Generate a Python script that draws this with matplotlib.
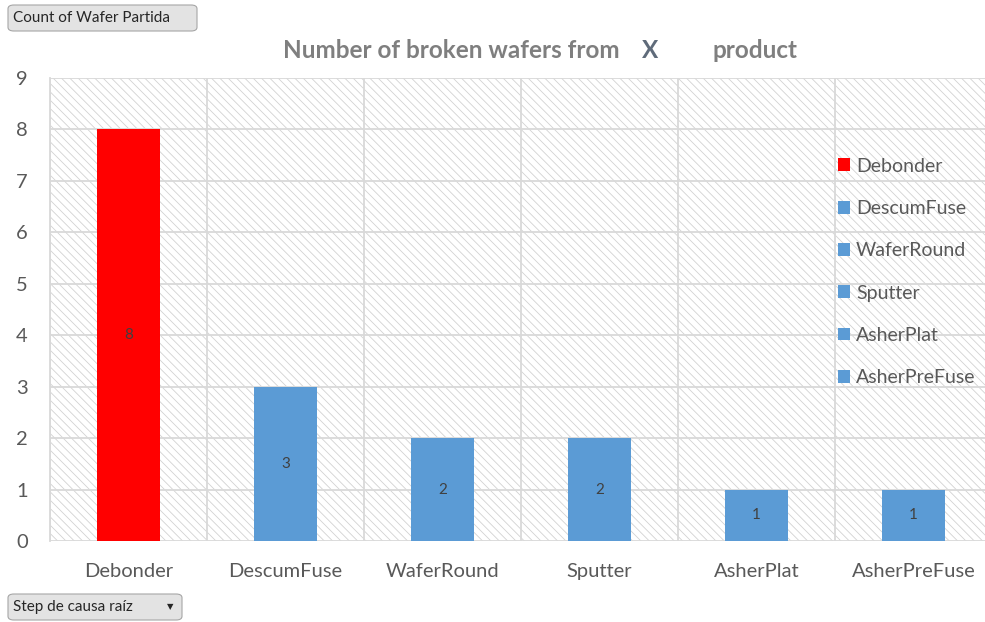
import matplotlib.pyplot as plt
from matplotlib.patches import Patch, Rectangle, FancyBboxPatch

# Data
steps = ["Debonder", "DescumFuse", "WaferRound", "Sputter", "AsherPlat", "AsherPreFuse"]
counts = [8, 3, 2, 2, 1, 1]
colors = ["#ff0000", "#5b9bd5", "#5b9bd5", "#5b9bd5", "#5b9bd5", "#5b9bd5"]
y_ticks = list(range(0, 10))

plt.rcParams["font.family"] = ["Lato", "DejaVu Sans"]
plt.rcParams["hatch.linewidth"] = 0.6

W, H = 985, 622
fig = plt.figure(figsize=(W / 100, H / 100), dpi=100)
ax = fig.add_axes([50 / W, 1 - 541 / H, 942 / W, 463 / H])

# hatched plot background
ax.add_patch(Rectangle((0, 0), 1, 1, transform=ax.transAxes, facecolor="white",
                       edgecolor="#d2d2d2", linewidth=0, hatch="\\" * 4, zorder=0))

x = range(len(steps))
bars = ax.bar(x, counts, width=0.4, color=colors, zorder=3)

ax.set_xlim(-0.5, len(steps) - 0.5)
ax.set_ylim(0, 9)
ax.set_yticks(y_ticks)
ax.set_xticks(list(x))
ax.set_xticklabels(steps)
ax.set_xticks([i - 0.5 for i in range(len(steps) + 1)], minor=True)
ax.tick_params(axis="both", which="both", length=0, colors="#595959", labelsize=14.5)
ax.tick_params(axis="y", pad=16)
ax.tick_params(axis="x", pad=16)
ax.grid(axis="y", color="#d9d9d9", linewidth=1.3, zorder=1)
ax.grid(axis="x", which="minor", color="#d9d9d9", linewidth=1.3, zorder=1)
for s in ax.spines.values():
    s.set_visible(False)
ax.spines["left"].set_visible(True)
ax.spines["left"].set_color("#d9d9d9")
ax.spines["left"].set_linewidth(1.3)

# value labels in the middle of each bar
for bar, v in zip(bars, counts):
    ax.text(bar.get_x() + bar.get_width() / 2, v / 2, str(v), ha="center", va="center",
            fontsize=11, color="#404040", zorder=4)

# legend
handles = [Patch(facecolor=c, edgecolor="none") for c in colors]
fig.legend(handles, steps, loc="upper left", bbox_to_anchor=(828 / W, 1 - 148 / H),
           frameon=False, fontsize=14, handlelength=0.65, handleheight=0.65,
           handletextpad=0.3, labelspacing=1.3, borderpad=0, labelcolor="#595959")

# title in pieces
ty = 1 - 51 / H
fig.text(620 / W, ty, "Number of broken wafers from", ha="right", va="center",
         fontsize=17.5, color="#7f7f7f", fontweight="bold")
fig.text(650 / W, ty, "X", ha="center", va="center", fontsize=17.5,
         color="#5f6b7a", fontweight="bold")
fig.text(712 / W, ty, "product", ha="left", va="center", fontsize=17.5,
         color="#7f7f7f", fontweight="bold")

# pivot field buttons
for (x0, y0, x1, y1, label, arrow) in [(8, 5, 197, 31, "Count of Wafer Partida", False),
                                       (8, 594, 182, 620, "Step de causa raíz", True)]:
    fig.patches.append(FancyBboxPatch((x0 / W, 1 - y1 / H), (x1 - x0) / W, (y1 - y0) / H,
                                      boxstyle="round,pad=0,rounding_size=0.006",
                                      transform=fig.transFigure, facecolor="#e3e3e3",
                                      edgecolor="#a6a6a6", linewidth=0.8))
    fig.text((x0 + 5) / W, 1 - (y0 + y1) / 2 / H, label, ha="left", va="center",
             fontsize=11, color="#262626")
    if arrow:
        fig.text((x1 - 12) / W, 1 - (y0 + y1) / 2 / H, "▼", ha="center", va="center",
                 fontsize=6, color="#262626", family="DejaVu Sans")

fig.savefig("out.png", dpi=100)
